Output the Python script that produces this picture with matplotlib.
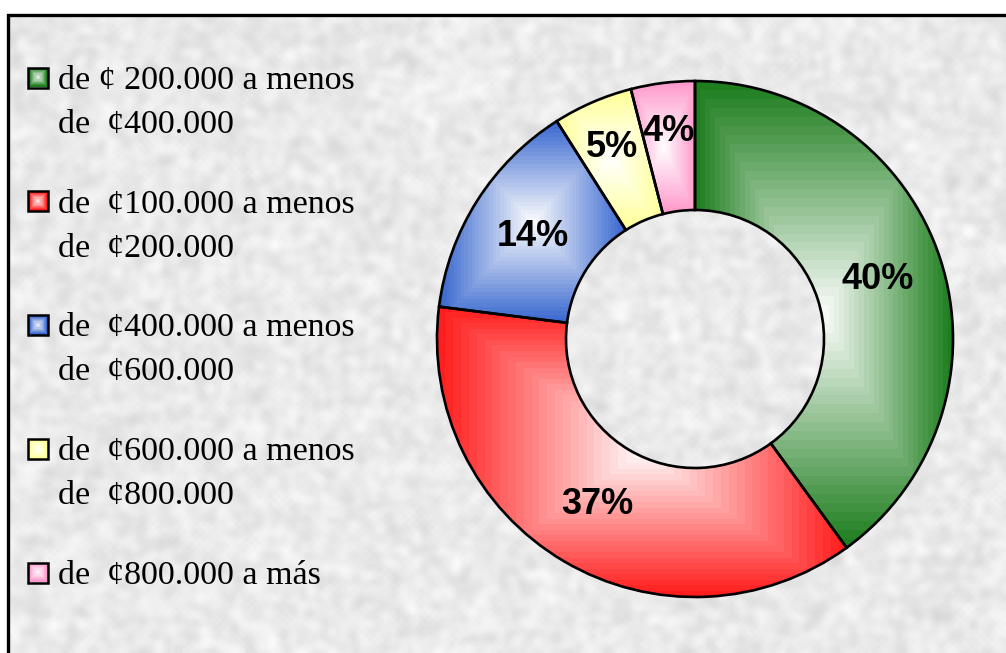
import numpy as np
import matplotlib.pyplot as plt
from matplotlib.patches import Rectangle
from matplotlib.colors import to_rgb

# ── Data ──────────────────────────────────────────────────────
categories = [
    ["de \u00a2 200.000 a menos", "de  \u00a2400.000"],
    ["de  \u00a2100.000 a menos", "de  \u00a2200.000"],
    ["de  \u00a2400.000 a menos", "de  \u00a2600.000"],
    ["de  \u00a2600.000 a menos", "de  \u00a2800.000"],
    ["de  \u00a2800.000 a m\u00e1s"],
]
shares = [40, 37, 14, 5, 4]
colors = ["#1E7E1E", "#FF1E1E", "#3A69CF", "#FFFF99", "#FF99CC"]
label_dist = [0.745, 0.745, 0.745, 0.81, 0.81]

# ── Layout (pixel space, y measured from bottom) ─────────────
W, H = 1006, 653
CX, CY = 695, H - 339
R_OUT, RING = 258, 129


def box_gradient(color, nx, ny, levels=26):
    """Rectangular 'from centre' gradient: white centre -> colour at edges."""
    xs = np.abs(np.linspace(-1, 1, nx))
    ys = np.abs(np.linspace(-1, 1, ny))
    t = np.maximum(xs[None, :], ys[:, None])
    t = np.ceil(t * levels) / levels
    c = np.array(to_rgb(color))
    return 1 - t[..., None] * (1 - c)


def paper_texture(w, h, step=4):
    gx, gy = np.meshgrid(np.arange(w // step + 2), np.arange(h // step + 2))
    n = np.modf(np.abs(np.sin(gx * 12.9898 + gy * 78.233) * 43758.5453))[0]
    for _ in range(2):
        n = (n + np.roll(n, 1, 0) + np.roll(n, -1, 0)
             + np.roll(n, 1, 1) + np.roll(n, -1, 1)) / 5
    n = (n - n.min()) / (n.max() - n.min())
    return 0.84 + 0.15 * n


fig = plt.figure(figsize=(W / 100, H / 100), dpi=100)
fig.patch.set_facecolor("white")
ax = fig.add_axes([0, 0, 1, 1])

# background paper texture inside the frame
tex = paper_texture(W, H)
ax.imshow(tex, cmap="gray", vmin=0, vmax=1, extent=[9, W, 0, H - 16],
          interpolation="bilinear", zorder=0, aspect="auto")

# ── Donut ─────────────────────────────────────────────────────
wedges, _ = ax.pie(shares, startangle=90, counterclock=False,
                   radius=R_OUT, center=(CX, CY), colors=colors,
                   wedgeprops=dict(width=RING, edgecolor="black",
                                   linewidth=1.9, facecolor="none"))

for w, col, val, dist in zip(wedges, colors, shares, label_dist):
    w.set_facecolor("none")
    w.set_zorder(3)
    ext = w.get_path().get_extents()
    nx, ny = max(int(ext.width), 2), max(int(ext.height), 2)
    img = ax.imshow(box_gradient(col, nx, ny),
                    extent=[ext.x0, ext.x1, ext.y0, ext.y1],
                    interpolation="nearest", zorder=2, aspect="auto")
    img.set_clip_path(w)
    mid = np.deg2rad((w.theta1 + w.theta2) / 2)
    ax.text(CX + dist * R_OUT * np.cos(mid), CY + dist * R_OUT * np.sin(mid),
            f"{val}%", ha="center", va="center", fontsize=26,
            fontweight="bold", family="Liberation Sans", zorder=4)

# ── Legend ────────────────────────────────────────────────────
y0, dy, line_gap = 77.5, 123.75, 44
for i, (lines, col) in enumerate(zip(categories, colors)):
    yc = H - (y0 + i * dy)
    box = Rectangle((28, yc - 10), 20, 20, facecolor="none",
                    edgecolor="black", linewidth=1.8, zorder=3)
    ax.add_patch(box)
    gimg = ax.imshow(box_gradient(col, 20, 20, levels=8),
                     extent=[28, 48, yc - 10, yc + 10],
                     interpolation="nearest", zorder=2, aspect="auto")
    gimg.set_clip_path(box)
    for k, line in enumerate(lines):
        ax.text(58, yc - 11.5 - k * line_gap, line, ha="left",
                va="baseline", fontsize=24.5, family="Liberation Serif",
                zorder=4)

# frame (only left and top edges visible)
ax.plot([8.5, 8.5, W], [0, H - 15, H - 15], color="black", lw=2.4,
        solid_joinstyle="miter", zorder=5)

ax.set_xlim(0, W)
ax.set_ylim(0, H)
ax.set_aspect("auto")
ax.axis("off")

fig.savefig("out.png", dpi=100, facecolor="white")
